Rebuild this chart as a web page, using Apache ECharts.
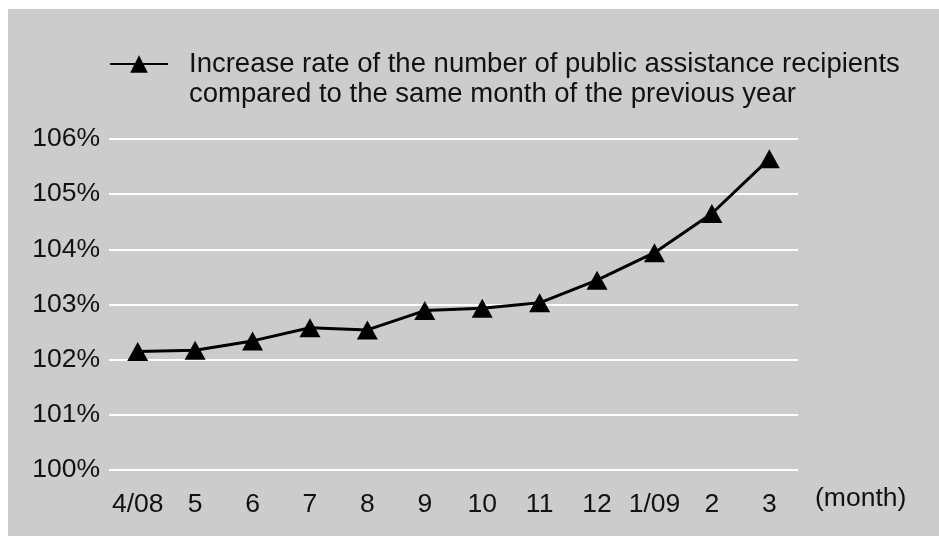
<!DOCTYPE html>
<html>
<head>
<meta charset="utf-8">
<style>
  html, body { margin: 0; padding: 0; background: #ffffff; }
  #chart { width: 939px; height: 536px; }
</style>
<script src="https://cdn.jsdelivr.net/npm/echarts@6/dist/echarts.min.js"></script>
</head>
<body>
<div id="chart"></div>
<script>
const categories = ['4/08', '5', '6', '7', '8', '9', '10', '11', '12', '1/09', '2', '3'];
const seriesName = 'Increase rate of the number of public assistance recipients\ncompared to the same month of the previous year';
const increaseRate = [102.15, 102.17, 102.34, 102.58, 102.54, 102.89, 102.93, 103.03, 103.44, 103.94, 104.65, 105.64];
const yMin = 100, yMax = 106, yStep = 1;
const xAxisName = '(month)';

const FONT = "'Liberation Sans', Arial, Helvetica, sans-serif";
const chart = echarts.init(document.getElementById('chart'), null, { renderer: 'canvas' });

chart.setOption({
  backgroundColor: 'transparent',
  animation: false,
  graphic: [{
    type: 'rect', z: -10, silent: true,
    shape: { x: 8, y: 9, width: 931, height: 527 },
    style: { fill: '#cccccc' }
  }],
  legend: {
    left: 104,
    top: 14,
    padding: 5,
    itemWidth: 58,
    itemHeight: 22,
    data: [seriesName],
    formatter: function (name) { return ' \n' + name; },
    textStyle: {
      fontFamily: FONT,
      fontSize: 27.5,
      color: '#111111',
      lineHeight: 30,
      padding: [0, 0, 0, 16]
    }
  },
  grid: {
    left: 109,
    right: 141,
    top: 139,
    bottom: 66,
    containLabel: false
  },
  xAxis: {
    type: 'category',
    data: categories,
    boundaryGap: true,
    axisLine: { show: false },
    axisTick: { show: false },
    axisLabel: {
      fontFamily: FONT,
      fontSize: 26.5,
      color: '#111111',
      margin: 21,
      interval: 0
    },
    name: xAxisName,
    nameLocation: 'end',
    nameGap: 17,
    nameTextStyle: {
      fontFamily: FONT,
      fontSize: 26.5,
      color: '#111111',
      verticalAlign: 'top',
      padding: [15, 0, 0, 0]
    }
  },
  yAxis: {
    type: 'value',
    min: yMin,
    max: yMax,
    interval: yStep,
    axisLine: { show: false },
    axisTick: { show: false },
    axisLabel: {
      fontFamily: FONT,
      fontSize: 26.5,
      color: '#111111',
      margin: 9,
      formatter: '{value}%'
    },
    splitLine: { show: true, lineStyle: { color: '#ffffff', width: 2 } }
  },
  series: [{
    name: seriesName,
    type: 'line',
    data: increaseRate,
    symbol: 'triangle',
    symbolSize: [21, 19],
    lineStyle: { color: '#000000', width: 3 },
    itemStyle: { color: '#000000' }
  }]
});
</script>
</body>
</html>
